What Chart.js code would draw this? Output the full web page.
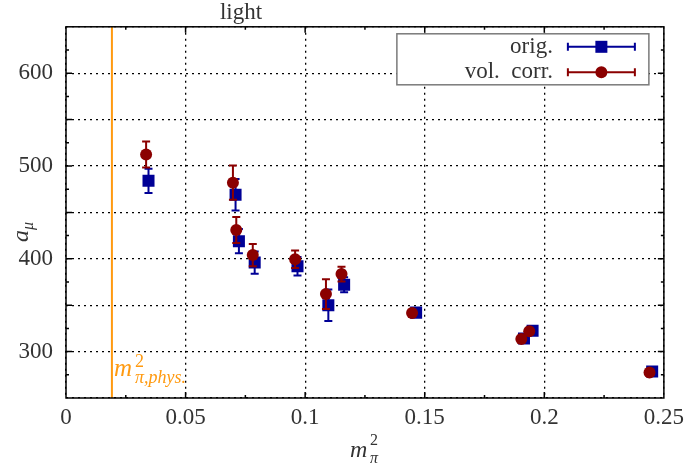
<!DOCTYPE html>
<html>
<head>
<meta charset="utf-8">
<script src="https://cdn.jsdelivr.net/npm/chart.js@4/dist/chart.umd.min.js"></script>
<style>
  body { margin: 0; background: #fff; }
  #wrap { width: 690px; height: 466px; position: relative; }
</style>
</head>
<body>
<div id="wrap"><canvas id="grafico"></canvas></div>
<script>
// valores
const xOrig   = [0.0345, 0.0709, 0.0723, 0.0789, 0.0968, 0.1097, 0.1163, 0.1464, 0.1915, 0.1951, 0.2451];
const yOrig   = [484, 469, 419, 396, 392, 350, 372, 342, 314, 322.5, 278.5];
const errOrig = [13, 17, 13, 12, 10, 17, 8, 3, 3, 3, 2];

const xCorr   = [0.0335, 0.0698, 0.0712, 0.0781, 0.0958, 0.1087, 0.1152, 0.1447, 0.1904, 0.1937, 0.2440];
const yCorr   = [512.5, 482, 431, 404, 399.5, 362, 383.5, 341.5, 313.5, 322, 277.5];
const errCorr = [14, 18.5, 14, 12, 9.5, 16, 8, 3, 3, 3, 2];

const mPhys2 = 0.0192;
const xTicks = [0, 0.05, 0.1, 0.15, 0.2, 0.25];
const yTicks = [300, 400, 500, 600];

const SERIF = "'Liberation Serif', 'Times New Roman', serif";
const AZUL = '#000096';
const VERMELHO = '#8b0000';
const LARANJA = '#ff9a10';

const monta = (xs, ys, es) => xs.map((v, i) => ({ x: v, y: ys[i], err: es[i] }));

// barras de erro desenhadas antes dos pontos de cada série
const barrasErro = {
    id: 'barrasErro',
    beforeDatasetDraw(chart, args) {
        const ds = chart.data.datasets[args.index];
        const { x, y } = chart.scales;
        const ctx = chart.ctx;
        ctx.save();
        ctx.strokeStyle = ds.backgroundColor;
        ctx.lineWidth = 2;
        ds.data.forEach(p => {
            const px = x.getPixelForValue(p.x);
            const t = y.getPixelForValue(p.y + p.err);
            const b = y.getPixelForValue(p.y - p.err);
            ctx.beginPath();
            ctx.moveTo(px, t); ctx.lineTo(px, b);
            ctx.moveTo(px - 4, t); ctx.lineTo(px + 4, t);
            ctx.moveTo(px - 4, b); ctx.lineTo(px + 4, b);
            ctx.stroke();
        });
        ctx.restore();
    }
};

// linha do m_pi físico
const linhaFisica = {
    id: 'linhaFisica',
    beforeDatasetsDraw(chart) {
        const { ctx, chartArea: a, scales: { x } } = chart;
        const px = x.getPixelForValue(mPhys2);
        ctx.save();
        ctx.strokeStyle = LARANJA;
        ctx.lineWidth = 2;
        ctx.beginPath();
        ctx.moveTo(px, a.top); ctx.lineTo(px, a.bottom);
        ctx.stroke();
        ctx.fillStyle = LARANJA;
        ctx.textBaseline = 'alphabetic';
        ctx.textAlign = 'left';
        ctx.font = `italic 25px ${SERIF}`;
        ctx.fillText('m', px + 2, a.bottom - 22);
        ctx.font = `18px ${SERIF}`;
        ctx.fillText('2', px + 23, a.bottom - 31);
        ctx.font = `italic 18px ${SERIF}`;
        ctx.fillText('π,phys.', px + 23, a.bottom - 15);
        ctx.restore();
    }
};

// moldura, ticks internos, legenda e rótulos
const moldura = {
    id: 'moldura',
    afterDraw(chart) {
        const { ctx, chartArea: a, scales: { x, y } } = chart;
        ctx.save();
        ctx.strokeStyle = '#000';
        ctx.lineWidth = 1.5;
        ctx.strokeRect(a.left, a.top, a.right - a.left, a.bottom - a.top);

        ctx.beginPath();
        for (let i = 1; i < 10; i++) {
            const px = x.getPixelForValue(i * 0.025);
            const len = i % 2 ? 3 : 6;
            ctx.moveTo(px, a.bottom); ctx.lineTo(px, a.bottom - len);
            ctx.moveTo(px, a.top); ctx.lineTo(px, a.top + len);
        }
        for (let v = 275; v < 650; v += 25) {
            const py = y.getPixelForValue(v);
            const len = v % 50 ? 3 : 6;
            ctx.moveTo(a.left, py); ctx.lineTo(a.left + len, py);
            ctx.moveTo(a.right, py); ctx.lineTo(a.right - len, py);
        }
        ctx.stroke();

        // legenda
        const lx = a.right - 267, ly = a.top + 7, lw = 252, lh = 51;
        ctx.fillStyle = '#fff';
        ctx.fillRect(lx, ly, lw, lh);
        ctx.strokeStyle = '#7a7a7a';
        ctx.lineWidth = 1.5;
        ctx.strokeRect(lx, ly, lw, lh);

        const itens = [
            { txt: 'orig.', cor: AZUL, forma: 'rect', yy: ly + 13 },
            { txt: 'vol.  corr.', cor: VERMELHO, forma: 'circle', yy: ly + 38.5 }
        ];
        itens.forEach(it => {
            ctx.fillStyle = '#333';
            ctx.font = `23px ${SERIF}`;
            ctx.textAlign = 'right';
            ctx.textBaseline = 'middle';
            ctx.fillText(it.txt, lx + 156, it.yy);
            const x0 = lx + 171, x1 = lx + 238, xm = (x0 + x1) / 2;
            ctx.strokeStyle = it.cor;
            ctx.lineWidth = 2;
            ctx.beginPath();
            ctx.moveTo(x0, it.yy); ctx.lineTo(x1, it.yy);
            ctx.moveTo(x0, it.yy - 4); ctx.lineTo(x0, it.yy + 4);
            ctx.moveTo(x1, it.yy - 4); ctx.lineTo(x1, it.yy + 4);
            ctx.stroke();
            ctx.fillStyle = it.cor;
            if (it.forma === 'rect') {
                ctx.fillRect(xm - 6, it.yy - 6, 12, 12);
            } else {
                ctx.beginPath(); ctx.arc(xm, it.yy, 6, 0, Math.PI * 2); ctx.fill();
            }
        });

        // título
        ctx.fillStyle = '#333';
        ctx.textAlign = 'center';
        ctx.textBaseline = 'alphabetic';
        ctx.font = `23px ${SERIF}`;
        ctx.fillText('light', 241, 19);

        // eixo x
        ctx.textAlign = 'left';
        ctx.font = `italic 24px ${SERIF}`;
        ctx.fillText('m', 350, 457);
        ctx.font = `16px ${SERIF}`;
        ctx.fillText('2', 370, 445);
        ctx.font = `italic 16px ${SERIF}`;
        ctx.fillText('π', 370, 463);

        // eixo y
        ctx.translate(28, 242);
        ctx.rotate(-Math.PI / 2);
        ctx.font = `italic 24px ${SERIF}`;
        ctx.fillText('a', 0, 0);
        ctx.font = `italic 16px ${SERIF}`;
        ctx.fillText('μ', 12, 5);
        ctx.restore();
    }
};

const fmtX = v => {
    const r = Math.round(v * 1000) / 1000;
    return xTicks.some(t => Math.abs(t - r) < 1e-9) ? String(r) : '';
};

new Chart(document.getElementById('grafico'), {
    type: 'scatter',
    data: {
        datasets: [
            {
                label: 'orig.',
                data: monta(xOrig, yOrig, errOrig),
                pointStyle: 'rect',
                pointRadius: 8.5,
                backgroundColor: AZUL,
                borderWidth: 0,
                order: 2
            },
            {
                label: 'vol. corr.',
                data: monta(xCorr, yCorr, errCorr),
                pointStyle: 'circle',
                pointRadius: 6,
                backgroundColor: VERMELHO,
                borderWidth: 0,
                order: 1
            }
        ]
    },
    options: {
        responsive: true,
        maintainAspectRatio: false,
        animation: false,
        events: [],
        layout: { padding: { top: 26, right: 22, left: 0, bottom: 0 } },
        plugins: { legend: { display: false }, tooltip: { enabled: false } },
        scales: {
            x: {
                type: 'linear',
                min: 0, max: 0.25,
                afterFit: s => { s.height = 68; },
                ticks: {
                    stepSize: 0.05,
                    padding: 6,
                    color: '#333',
                    font: { family: SERIF, size: 23 },
                    maxRotation: 0,
                    callback: fmtX
                },
                grid: { color: '#000', lineWidth: 1.3, drawTicks: false },
                border: { display: false, dash: [2, 4] }
            },
            y: {
                min: 250, max: 650,
                afterFit: s => { s.width = 66; },
                ticks: {
                    stepSize: 50,
                    padding: 13,
                    color: '#333',
                    font: { family: SERIF, size: 23 },
                    callback: v => yTicks.includes(v) ? String(v) : ''
                },
                grid: { color: '#000', lineWidth: 1.3, drawTicks: false },
                border: { display: false, dash: [2, 4] }
            }
        }
    },
    plugins: [barrasErro, linhaFisica, moldura]
});
</script>
</body>
</html>
